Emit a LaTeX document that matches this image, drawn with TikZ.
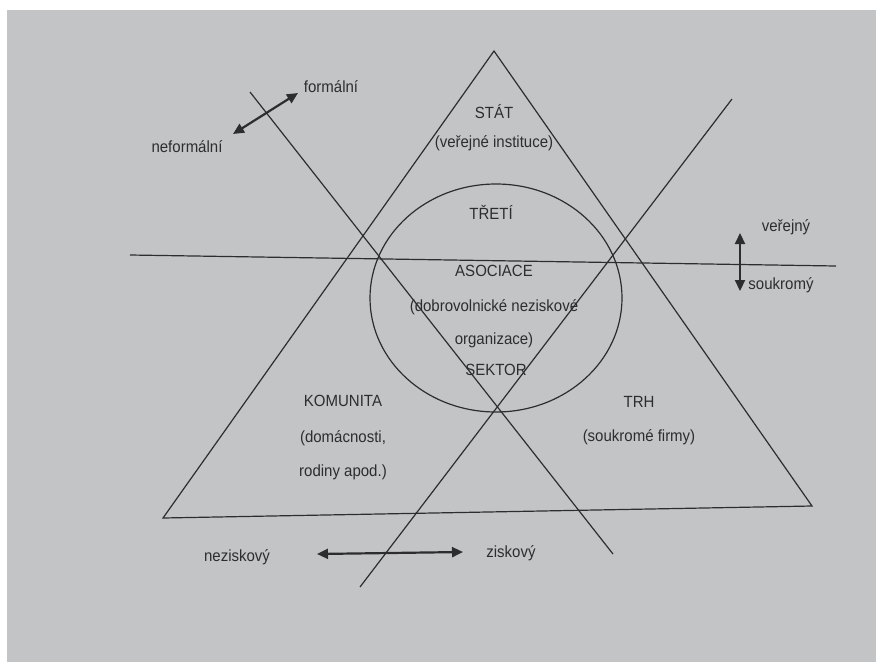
\documentclass[tikz,border=0pt]{standalone}
\usepackage{fontspec}
\setmainfont{Liberation Sans}
\usetikzlibrary{arrows.meta,shapes.geometric}
\definecolor{paper}{RGB}{194,196,197}
\definecolor{ink}{RGB}{45,45,48}
\tikzset{
  lbl/.style={text=ink, inner sep=0pt, font=\fontsize{15}{18}\selectfont, yscale=1.08},
  thinline/.style={draw=ink, line width=1.2pt},
  dblarrow/.style={draw=ink, line width=2.2pt, {Triangle[length=11pt,width=10pt]}-{Triangle[length=11pt,width=10pt]}}
}
\begin{document}
\begin{tikzpicture}[x=1pt,y=-1pt]
\useasboundingbox (0,0) rectangle (876,662);
\fill[white] (0,0) rectangle (876,662);
\fill[paper] (7,10) rectangle (876,662);
% main triangle
\coordinate (apex) at (494,51);
\coordinate (bl) at (163,518);
\coordinate (br) at (812,506);
\draw[thinline, line join=miter] (apex) -- (bl) -- (br) -- cycle;
% crossing lines
\coordinate (d1a) at (250,92);
\coordinate (d1b) at (613,554);
\coordinate (d2a) at (732,99);
\coordinate (d2b) at (360,587);
\coordinate (ha) at (130,255);
\coordinate (hb) at (836,266);
\draw[thinline] (d1a) -- (d1b);
\draw[thinline] (d2a) -- (d2b);
\draw[thinline] (ha) -- (hb);
% circle
\node (circ) [draw=ink, line width=1.2pt, ellipse, minimum width=252pt, minimum height=228pt, inner sep=0pt] at (496,298) {};
% texts
\node[lbl] (formal) at (331,87) {formální};
\node[lbl] (neformal) at (187,147) {neformální};
\node[lbl] (stat) at (494,112) {STÁT};
\node[lbl] (stat2) at (494,143) {(veřejné instituce)};
\node[lbl] (treti) at (491,212) {TŘETÍ};
\node[lbl] (verejny) at (786,227) {veřejný};
\node[lbl] (soukromy) at (781,285) {soukromý};
\node[lbl] (asoc) at (494,271) {ASOCIACE};
\node[lbl] (asoc2) at (494,307) {(dobrovolnické neziskové};
\node[lbl] (asoc3) at (494,340) {organizace)};
\node[lbl] (sektor) at (496,370) {SEKTOR};
\node[lbl] (kom) at (343,401) {KOMUNITA};
\node[lbl] (kom2) at (343,438) {(domácnosti,};
\node[lbl] (kom3) at (343,472) {rodiny apod.)};
\node[lbl] (trh) at (639,402) {TRH};
\node[lbl] (trh2) at (639,437) {(soukromé firmy)};
\node[lbl] (nezisk) at (237,557) {neziskový};
\node[lbl] (zisk) at (511,553) {ziskový};
% arrows
\coordinate (fa) at (233,134);
\coordinate (fb) at (298,93);
\draw[dblarrow] (fa) -- (fb);
\coordinate (va) at (740,233);
\coordinate (vb) at (740,291);
\draw[dblarrow] (va) -- (vb);
\coordinate (na) at (317,554);
\coordinate (nb) at (463,552);
\draw[dblarrow] (na) -- (nb);
\end{tikzpicture}
\end{document}
